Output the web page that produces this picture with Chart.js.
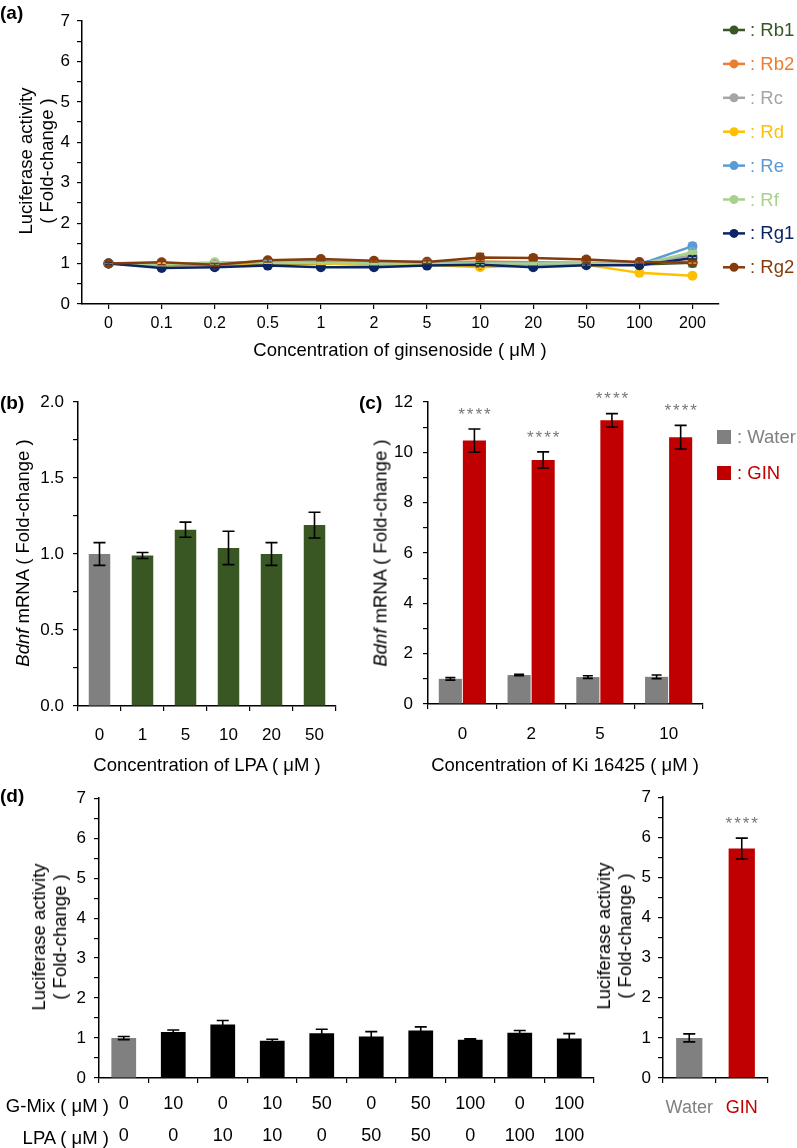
<!DOCTYPE html>
<html>
<head>
<meta charset="utf-8">
<script src="https://cdn.jsdelivr.net/npm/chart.js@4.4.0/dist/chart.umd.min.js"></script>
<style>
body { margin:0; background:#fff; width:797px; height:1148px; position:relative; overflow:hidden; font-family:'Liberation Sans', Arial, sans-serif; }
canvas, .t { position:absolute; }
.t { white-space:nowrap; color:#000; font-size:18.5px; line-height:21px; }
.rot { transform:translate(-50%,-50%) rotate(-90deg); text-align:center; }
.ctr { transform:translate(-50%,-50%); }
.lbl { font-weight:bold; font-size:19px; }
</style>
</head>
<body>
<canvas id="chartA" width="797" height="370" style="left:0;top:0"></canvas>
<canvas id="chartB" width="380" height="410" style="left:0;top:370px"></canvas>
<canvas id="chartC" width="417" height="410" style="left:380px;top:370px"></canvas>
<canvas id="chartD" width="640" height="368" style="left:0;top:780px"></canvas>
<canvas id="chartE" width="157" height="368" style="left:640px;top:780px"></canvas>

<div class="t lbl" style="left:0;top:2px">(a)</div>
<div class="t lbl" style="left:0;top:392px">(b)</div>
<div class="t lbl" style="left:359px;top:392px">(c)</div>
<div class="t lbl" style="left:0;top:785px">(d)</div>

<div class="t rot" style="left:36px;top:161px">Luciferase activity<br>( Fold-change )</div>
<div class="t ctr" style="left:400px;top:349px">Concentration of ginsenoside ( μM )</div>
<div class="t rot" style="left:22px;top:553px"><i>Bdnf</i> mRNA ( Fold-change )</div>
<div class="t ctr" style="left:207px;top:764px">Concentration of LPA ( μM )</div>
<div class="t rot" style="left:380px;top:553px"><i>Bdnf</i> mRNA ( Fold-change )</div>
<div class="t ctr" style="left:565px;top:764px">Concentration of Ki 16425 ( μM )</div>
<div class="t rot" style="left:49px;top:937px">Luciferase activity<br>( Fold-change )</div>
<div class="t rot" style="left:614px;top:936px">Luciferase activity<br>( Fold-change )</div>
<div class="t" style="right:688px;top:1095px">G-Mix ( μM )</div>
<div class="t" style="right:688px;top:1127px">LPA ( μM )</div>

<script>
const FONT = "'Liberation Sans', Arial, sans-serif";

// (a) ginsenosides
const concA = ['0', '0.1', '0.2', '0.5', '1', '2', '5', '10', '20', '50', '100', '200'];
const namesA = ['Rb1', 'Rb2', 'Rc', 'Rd', 'Re', 'Rf', 'Rg1', 'Rg2'];
const colorsA = ['#385723', '#ED7D31', '#A5A5A5', '#FFC000', '#5B9BD5', '#A9D18E', '#0B2464', '#843C0C'];
const rb1 = [1.0, 0.96, 0.98, 1.0, 1.0, 0.98, 0.98, 1.0, 0.98, 1.0, 0.98, 1.02];
const rb2 = [1.0, 1.0, 0.98, 1.04, 1.05, 1.03, 1.02, 1.05, 1.03, 1.02, 1.0, 1.05];
const rc  = [1.0, 0.97, 1.0, 1.05, 1.03, 1.02, 1.05, 1.02, 1.0, 1.0, 1.02, 1.2];
const rd  = [1.0, 0.95, 0.97, 1.02, 1.0, 0.98, 0.97, 0.91, 0.96, 0.97, 0.77, 0.7];
const re  = [1.0, 0.97, 0.98, 1.05, 1.05, 1.0, 1.03, 1.0, 1.0, 0.98, 0.98, 1.43];
const rf  = [1.0, 0.98, 1.03, 1.03, 1.02, 1.0, 1.0, 1.0, 1.0, 1.0, 0.98, 1.28];
const rg1 = [1.0, 0.89, 0.91, 0.95, 0.91, 0.91, 0.95, 0.97, 0.91, 0.96, 0.96, 1.14];
const rg2 = [1.0, 1.03, 0.97, 1.08, 1.11, 1.07, 1.04, 1.15, 1.14, 1.1, 1.04, 1.02];
const errA = [
  [0.03, 0.02, 0.02, 0.02, 0.02, 0.02, 0.02, 0.02, 0.02, 0.02, 0.02, 0.1],
  [0.03, 0.02, 0.02, 0.02, 0.02, 0.02, 0.02, 0.02, 0.02, 0.02, 0.02, 0.04],
  [0.03, 0.02, 0.02, 0.03, 0.02, 0.02, 0.03, 0.02, 0.02, 0.02, 0.02, 0.04],
  [0.03, 0.02, 0.02, 0.02, 0.02, 0.02, 0.02, 0.03, 0.02, 0.02, 0.02, 0.02],
  [0.03, 0.02, 0.02, 0.02, 0.02, 0.02, 0.02, 0.02, 0.02, 0.04, 0.02, 0.08],
  [0.03, 0.02, 0.03, 0.02, 0.02, 0.02, 0.02, 0.02, 0.02, 0.02, 0.02, 0.04],
  [0.03, 0.02, 0.02, 0.02, 0.02, 0.02, 0.02, 0.03, 0.02, 0.03, 0.02, 0.04],
  [0.05, 0.06, 0.03, 0.04, 0.04, 0.03, 0.04, 0.1, 0.07, 0.07, 0.03, 0.06]
];
const seriesA = [rb1, rb2, rc, rd, re, rf, rg1, rg2];

// (b) LPA
const concB = ['0', '1', '5', '10', '20', '50'];
const bdnfB = [1.0, 0.99, 1.16, 1.04, 1.0, 1.19];
const errB = [0.075, 0.02, 0.05, 0.11, 0.075, 0.085];

// (c) Ki 16425
const concC = ['0', '2', '5', '10'];
const waterC = [1.0, 1.15, 1.07, 1.08];
const waterErrC = [0.05, 0.03, 0.05, 0.07];
const ginC = [10.47, 9.7, 11.27, 10.6];
const ginErrC = [0.46, 0.32, 0.27, 0.47];
const ginStarsC = [true, true, true, true];

// (d) G-Mix + LPA
const gMix = ['0', '10', '0', '10', '50', '0', '50', '100', '0', '100'];
const lpaD = ['0', '0', '10', '10', '0', '50', '50', '0', '100', '100'];
const lucD = [1.0, 1.15, 1.34, 0.93, 1.12, 1.04, 1.19, 0.96, 1.13, 0.99];
const errD = [0.04, 0.05, 0.1, 0.04, 0.1, 0.12, 0.09, 0.02, 0.06, 0.12];
const groupsE = ['Water', 'GIN'];
const lucE = [1.0, 5.72];
const errE = [0.1, 0.26];
const starsE = [false, true];

const GRAY = '#808080', RED = '#C00000', GREEN = '#385723';

// 에러바 + 별표
const errorBars = {
  id: 'errorBars',
  afterDatasetsDraw(chart) {
    const ctx = chart.ctx, y = chart.scales.y;
    chart.data.datasets.forEach((ds, i) => {
      if (!ds.errors) return;
      const meta = chart.getDatasetMeta(i);
      ctx.save();
      ctx.strokeStyle = ds.errorColor || '#000';
      ctx.lineWidth = 1.6;
      meta.data.forEach((el, j) => {
        const v = ds.data[j], e = ds.errors[j], cap = ds.capWidth || 5;
        const top = y.getPixelForValue(v + e), bot = y.getPixelForValue(v - e);
        ctx.beginPath();
        ctx.moveTo(el.x, top); ctx.lineTo(el.x, bot);
        ctx.moveTo(el.x - cap, top); ctx.lineTo(el.x + cap, top);
        ctx.moveTo(el.x - cap, bot); ctx.lineTo(el.x + cap, bot);
        ctx.stroke();
        if (ds.stars && ds.stars[j]) {
          ctx.fillStyle = '#777';
          ctx.font = '17px ' + FONT;
          ctx.letterSpacing = '2px';
          ctx.textAlign = 'center';
          ctx.textBaseline = 'middle';
          ctx.fillText('****', el.x + 1, top - 14);
        }
      });
      ctx.restore();
    });
  }
};

// (a) 범례: 선 + 점 + 색깔 글씨
const lineLegend = {
  id: 'lineLegend',
  afterDraw(chart) {
    const ctx = chart.ctx;
    ctx.save();
    namesA.forEach((name, i) => {
      const y = 30 + i * 33.9;
      ctx.strokeStyle = colorsA[i];
      ctx.fillStyle = colorsA[i];
      ctx.lineWidth = 2.5;
      ctx.beginPath(); ctx.moveTo(723, y); ctx.lineTo(745, y); ctx.stroke();
      ctx.beginPath(); ctx.arc(734, y, 4.5, 0, Math.PI * 2); ctx.fill();
      ctx.font = '18.5px ' + FONT;
      ctx.textBaseline = 'middle';
      ctx.fillText(': ' + name, 750, y + 1);
    });
    ctx.restore();
  }
};

// (c) 범례: 네모
const boxLegend = {
  id: 'boxLegend',
  afterDraw(chart) {
    const ctx = chart.ctx;
    ctx.save();
    [[': Water', GRAY, 67], [': GIN', RED, 103]].forEach(([txt, col, y]) => {
      ctx.fillStyle = col;
      ctx.fillRect(337, y - 7, 14, 14);
      ctx.font = '18.5px ' + FONT;
      ctx.textBaseline = 'middle';
      ctx.fillText(txt, 357, y + 1);
    });
    ctx.restore();
  }
};

function yAxis(min, max, step, fmt, width, pad, size) {
  return {
    min: min, max: max,
    afterFit: a => { a.width = width; },
    border: { color: '#000', width: 1.5 },
    grid: { drawOnChartArea: false, color: '#000', tickLength: 5, lineWidth: 1.2 },
    ticks: { stepSize: step, autoSkip: false, maxTicksLimit: 100, color: '#000',
             font: { size: size || 16, family: FONT }, padding: pad, callback: fmt }
  };
}

function xAxis(height, pad, extra) {
  return Object.assign({
    afterFit: a => { a.height = height; },
    border: { color: '#000', width: 1.5 },
    grid: { drawOnChartArea: false, color: '#000', tickLength: 5, lineWidth: 1.2 },
    ticks: { color: '#000', font: { size: 16, family: FONT }, padding: pad, maxRotation: 0, autoSkip: false }
  }, extra || {});
}

const base = {
  responsive: false,
  animation: false,
  plugins: { legend: { display: false }, tooltip: { enabled: false } }
};

// (a)
new Chart(document.getElementById('chartA'), {
  type: 'line',
  data: {
    labels: concA,
    datasets: seriesA.map((d, i) => ({
      label: namesA[i],
      data: d,
      errors: errA[i],
      errorColor: colorsA[i],
      capWidth: 4,
      borderColor: colorsA[i],
      backgroundColor: colorsA[i],
      borderWidth: 2.5,
      pointRadius: 5,
      pointBorderWidth: 0,
      order: namesA.length - 1 - i
    }))
  },
  options: Object.assign({}, base, {
    layout: { padding: { top: 21, right: 78, left: 0, bottom: 0 } },
    scales: {
      x: xAxis(66, 5, { offset: true, ticks: { color: '#000', font: { size: 16, family: FONT }, padding: 5, maxRotation: 0, autoSkip: false } }),
      y: yAxis(0, 7, 0.5, v => Number.isInteger(v) ? v : '', 82, 7, 17)
    }
  }),
  plugins: [errorBars, lineLegend]
});

// (b)
new Chart(document.getElementById('chartB'), {
  type: 'bar',
  data: {
    labels: concB,
    datasets: [{
      data: bdnfB, errors: errB, capWidth: 6,
      backgroundColor: bdnfB.map((v, i) => i === 0 ? GRAY : GREEN),
      categoryPercentage: 1, barPercentage: 0.5
    }]
  },
  options: Object.assign({}, base, {
    layout: { padding: { top: 32, right: 44, left: 0, bottom: 0 } },
    scales: {
      x: xAxis(74, 14, { ticks: { color: '#000', font: { size: 17, family: FONT }, padding: 14, maxRotation: 0, autoSkip: false } }),
      y: yAxis(0, 2, 0.25, v => (Math.abs(v * 2 - Math.round(v * 2)) < 1e-9) ? v.toFixed(1) : '', 78, 9, 17)
    }
  }),
  plugins: [errorBars]
});

// (c)
new Chart(document.getElementById('chartC'), {
  type: 'bar',
  data: {
    labels: concC,
    datasets: [
      { data: waterC, errors: waterErrC, capWidth: 5, backgroundColor: GRAY,
        categoryPercentage: 0.7, barPercentage: 0.96 },
      { data: ginC, errors: ginErrC, capWidth: 6, stars: ginStarsC, backgroundColor: RED,
        categoryPercentage: 0.7, barPercentage: 0.96 }
    ]
  },
  options: Object.assign({}, base, {
    layout: { padding: { top: 32, right: 94, left: 0, bottom: 0 } },
    scales: {
      x: xAxis(76, 16, { ticks: { color: '#000', font: { size: 17, family: FONT }, padding: 15, maxRotation: 0, autoSkip: false } }),
      y: yAxis(0, 12, 1, v => v % 2 === 0 ? v : '', 48, 10, 17)
    }
  }),
  plugins: [errorBars, boxLegend]
});

// (d) 왼쪽
new Chart(document.getElementById('chartD'), {
  type: 'bar',
  data: {
    labels: gMix.map((g, i) => [g, lpaD[i]]),
    datasets: [{
      data: lucD, errors: errD, capWidth: 6,
      backgroundColor: lucD.map((v, i) => i === 0 ? GRAY : '#000'),
      categoryPercentage: 1, barPercentage: 0.5
    }]
  },
  options: Object.assign({}, base, {
    layout: { padding: { top: 15, right: 46, left: 0, bottom: 0 } },
    scales: {
      x: xAxis(70, 6, { ticks: { color: '#000', font: { size: 18, family: FONT, lineHeight: 1.78 }, padding: 5, maxRotation: 0, autoSkip: false } }),
      y: yAxis(0, 7, 0.5, v => Number.isInteger(v) ? v : '', 99, 8, 17)
    }
  }),
  plugins: [errorBars]
});

// (d) 오른쪽
new Chart(document.getElementById('chartE'), {
  type: 'bar',
  data: {
    labels: groupsE,
    datasets: [{
      data: lucE, errors: errE, capWidth: 6, stars: starsE,
      backgroundColor: [GRAY, RED],
      categoryPercentage: 1, barPercentage: 0.5
    }]
  },
  options: Object.assign({}, base, {
    layout: { padding: { top: 15, right: 29, left: 0, bottom: 0 } },
    scales: {
      x: xAxis(70, 15, { ticks: { color: c => c.index === 0 ? GRAY : RED, font: { size: 18, family: FONT }, padding: 14, maxRotation: 0, autoSkip: false } }),
      y: yAxis(0, 7, 0.5, v => Number.isInteger(v) ? v : '', 23, 7, 17)
    }
  }),
  plugins: [errorBars]
});
</script>
</body>
</html>
